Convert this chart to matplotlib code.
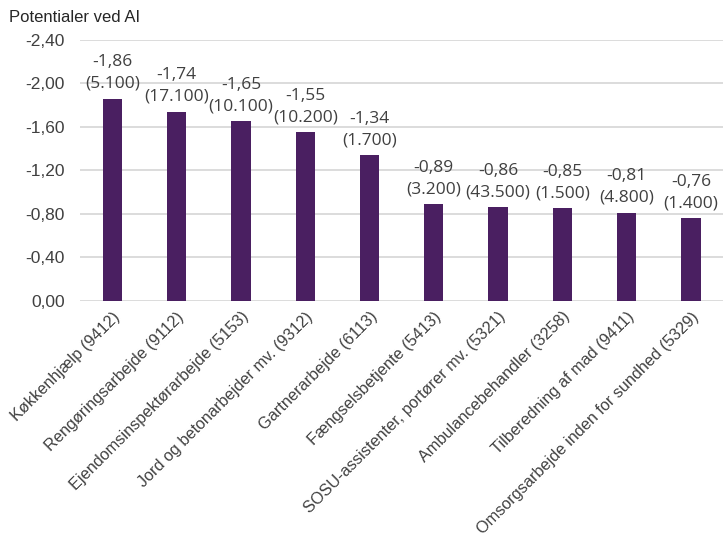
import matplotlib.pyplot as plt
from matplotlib.ticker import FuncFormatter

# Potentiale ved AI pr. fagområde, med antal beskæftigede i parentes
categories = [
    "Køkkenhjælp (9412)",
    "Rengøringsarbejde (9112)",
    "Ejendomsinspektørarbejde (5153)",
    "Jord og betonarbejder mv. (9312)",
    "Gartnerarbejde (6113)",
    "Fængselsbetjente (5413)",
    "SOSU-assistenter, portører mv. (5321)",
    "Ambulancebehandler (3258)",
    "Tilberedning af mad (9411)",
    "Omsorgsarbejde inden for sundhed (5329)",
]
values = [-1.86, -1.74, -1.65, -1.55, -1.34, -0.89, -0.86, -0.85, -0.81, -0.76]
counts = ["5.100", "17.100", "10.100", "10.200", "1.700",
          "3.200", "43.500", "1.500", "4.800", "1.400"]
yticks = [0.0, -0.4, -0.8, -1.2, -1.6, -2.0, -2.4]

bar_color = "#4a1f61"
text_color = "#404040"
grid_color = "#d9d9d9"

fig = plt.figure(figsize=(7.23, 5.40), dpi=100)
ax = fig.add_axes([0.111, 0.443, 0.889, 0.483])

x = range(len(categories))
ax.bar(x, values, width=0.3, color=bar_color, zorder=3)

for xi, v, c in zip(x, values, counts):
    label = f"{v:.2f}".replace(".", ",") + f"\n({c})"
    ax.annotate(label, (xi, v), xytext=(0, 5), textcoords="offset points",
                ha="center", va="bottom", fontsize=12.5, color=text_color,
                family="Open Sans", linespacing=1.45)

ax.set_xlim(-0.5, len(categories) - 0.5)
ax.set_ylim(0, -2.4)
ax.set_yticks(yticks)
ax.yaxis.set_major_formatter(FuncFormatter(lambda v, _: f"{v:.2f}".replace(".", ",")))
ax.grid(axis="y", color=grid_color, linewidth=1.3, zorder=0)

ax.set_xticks(list(x))
ax.set_xticklabels(categories, rotation=45, ha="right", rotation_mode="anchor",
                   fontsize=11.7, color=text_color, family="Liberation Sans")
for lbl in ax.get_yticklabels():
    lbl.set_fontsize(12.5)
    lbl.set_color(text_color)
    lbl.set_family("Liberation Sans")

ax.tick_params(axis="both", length=0)
ax.tick_params(axis="y", pad=11)
ax.tick_params(axis="x", pad=6)
for side in ["top", "right", "left", "bottom"]:
    ax.spines[side].set_visible(False)

fig.text(0.012, 0.968, "Potentialer ved AI", fontsize=12, color="#262626",
         family="Liberation Sans", va="center")

fig.savefig("out.png", dpi=100)
